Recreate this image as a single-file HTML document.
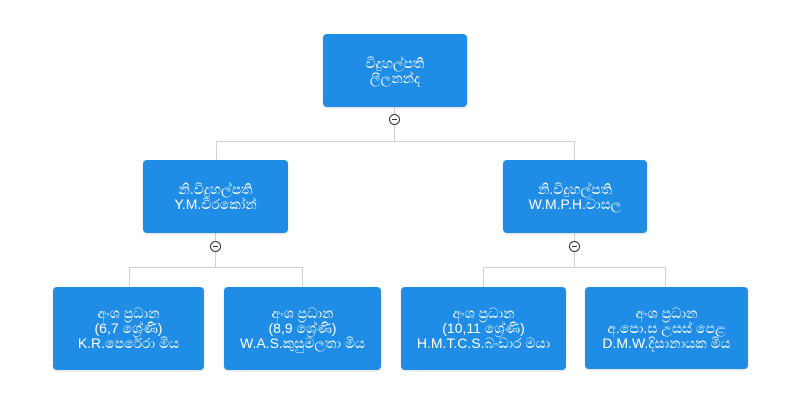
<!DOCTYPE html>
<html><head><meta charset="utf-8"><style>
body{margin:0;width:788px;height:400px;background:#fff;position:relative;overflow:hidden;font-family:"Liberation Sans","Noto Sans CJK SC",sans-serif;}
.b{position:absolute;background:#1f8ce5;border-radius:4px;color:#fff;font-size:14px;line-height:15px;display:flex;align-items:center;justify-content:center;text-align:center;box-shadow:0 1px 2px rgba(0,0,0,.15);}
.l{position:absolute;background:#d0d0d0;}
.c{position:absolute;width:11px;height:11px;border:1px solid #333;border-radius:50%;background:#fff;box-sizing:border-box;}
.c:after{content:"";position:absolute;left:2px;right:2px;top:4px;height:1px;background:#333;}
</style></head><body>
<div class="l" style="left:394px;top:107px;width:1px;height:35px"></div>
<div class="l" style="left:216px;top:141px;width:359px;height:1px"></div>
<div class="l" style="left:216px;top:141px;width:1px;height:19px"></div>
<div class="l" style="left:574px;top:141px;width:1px;height:19px"></div>
<div class="l" style="left:215px;top:233px;width:1px;height:35px"></div>
<div class="l" style="left:129px;top:267px;width:174px;height:1px"></div>
<div class="l" style="left:129px;top:267px;width:1px;height:20px"></div>
<div class="l" style="left:302px;top:267px;width:1px;height:20px"></div>
<div class="l" style="left:574px;top:233px;width:1px;height:35px"></div>
<div class="l" style="left:483px;top:267px;width:183px;height:1px"></div>
<div class="l" style="left:483px;top:267px;width:1px;height:20px"></div>
<div class="l" style="left:665px;top:267px;width:1px;height:20px"></div>
<div class="c" style="left:389px;top:114px"></div>
<div class="c" style="left:210px;top:241px"></div>
<div class="c" style="left:569px;top:241px"></div>
<div class="b" style="left:323px;top:34px;width:144px;height:73px">විදුහල්පති<br>ලීලනන්ද</div>
<div class="b" style="left:143px;top:160px;width:145px;height:73px">නි.විදුහල්පති<br>Y.M.වීරකෝන්</div>
<div class="b" style="left:503px;top:160px;width:144px;height:73px">නි.විදුහල්පති<br>W.M.P.H.වාසල</div>
<div class="b" style="left:53px;top:287px;width:151px;height:83px">අංශ ප්‍රධාන<br>(6,7 ශ්‍රේණි)<br>K.R.පෙරේරා මිය</div>
<div class="b" style="left:224px;top:287px;width:157px;height:83px">අංශ ප්‍රධාන<br>(8,9 ශ්‍රේණි)<br>W.A.S.කුසුමලතා මිය</div>
<div class="b" style="left:401px;top:287px;width:165px;height:83px">අංශ ප්‍රධාන<br>(10,11 ශ්‍රේණි)<br>H.M.T.C.S.බංඩාර මයා</div>
<div class="b" style="left:585px;top:287px;width:163px;height:82px">අංශ ප්‍රධාන<br>අ.පො.ස උසස් පෙළ<br>D.M.W.දිසානායක මිය</div>
</body></html>
